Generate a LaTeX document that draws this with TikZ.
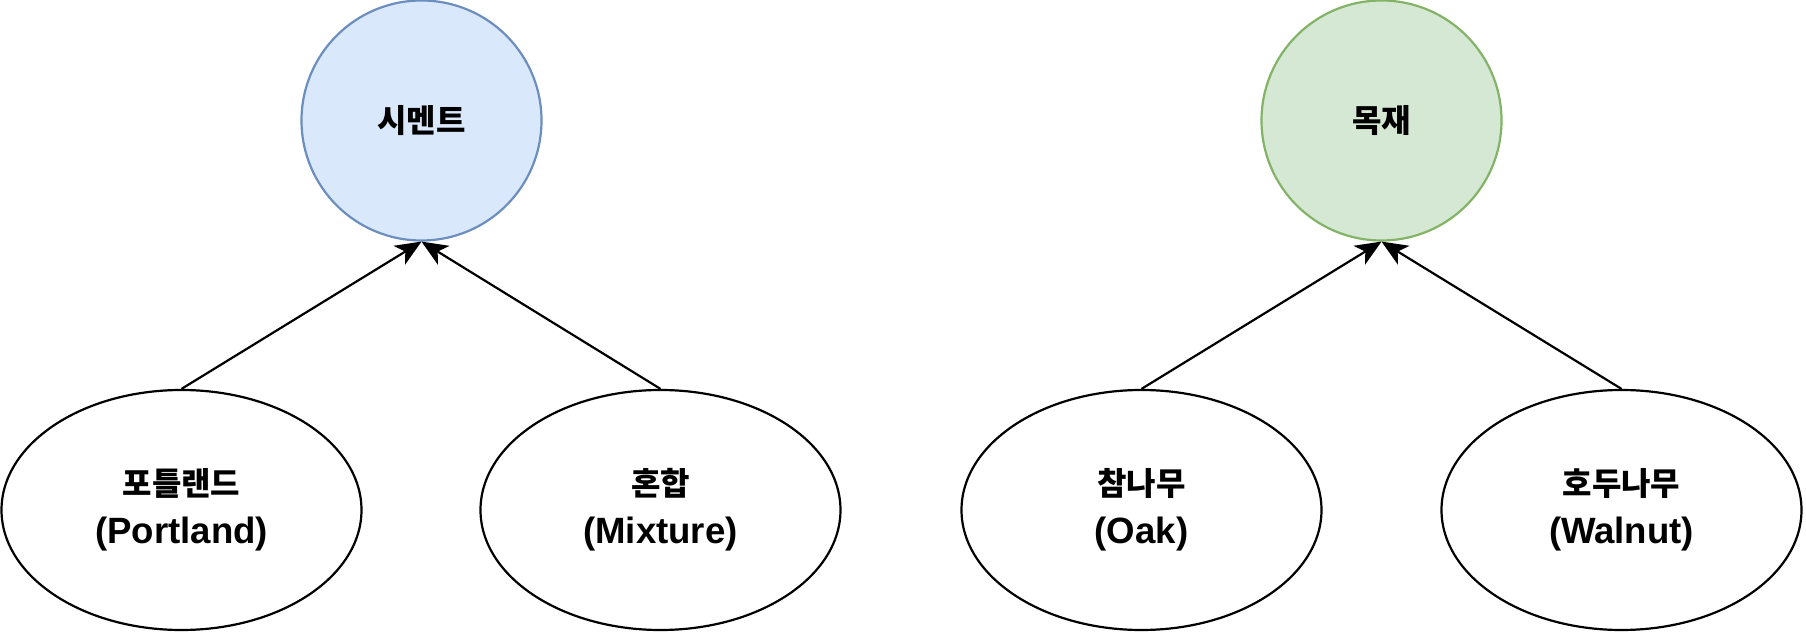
\documentclass[tikz,border=0pt]{standalone}
\usepackage{fontspec}
\setmainfont{Liberation Sans}
\newfontfamily\krfont{Noto Sans CJK KR}
\usetikzlibrary{arrows.meta,shapes.geometric}

\newcommand{\kr}[1]{{\krfont\fontsize{16}{24}\selectfont #1}}

\begin{document}
\begin{tikzpicture}[x=0.5pt,y=-0.5pt,
  material/.style={circle,draw,line width=1.1pt,minimum size=120pt,inner sep=0pt,
    font=\bfseries\fontsize{18}{24}\selectfont},
  kind/.style={ellipse,draw,line width=1.1pt,minimum width=180pt,minimum height=120pt,
    inner sep=0pt,align=center,font=\bfseries\fontsize{18.3}{24}\selectfont},
  edge/.style={line width=1.1pt,-{Stealth[length=13pt,width=11pt,inset=3.5pt]}}]
\definecolor{cementFill}{HTML}{DAE8FC}
\definecolor{cementLine}{HTML}{6C8EBF}
\definecolor{woodFill}{HTML}{D5E8D4}
\definecolor{woodLine}{HTML}{82B366}
\useasboundingbox (0,0) rectangle (1806,636);
% top level
\node[material,fill=cementFill,draw=cementLine] (cement) at (421.5,120.5) {\kr{시멘트}};
\node[material,fill=woodFill,draw=woodLine] (wood) at (1381.5,120.5) {\kr{목재}};
% kinds
\node[kind] (portland) at (181.5,510) {\kr{포틀랜드}\\(Portland)};
\node[kind] (mixture) at (660.5,510) {\kr{혼합}\\(Mixture)};
\node[kind] (oak) at (1141.5,510) {\kr{참나무}\\(Oak)};
\node[kind] (walnut) at (1621.5,510) {\kr{호두나무}\\(Walnut)};
\foreach \a/\b in {portland/cement,mixture/cement,oak/wood,walnut/wood}
  \draw[edge] (\a.north) -- (\b.south);
\end{tikzpicture}
\end{document}
